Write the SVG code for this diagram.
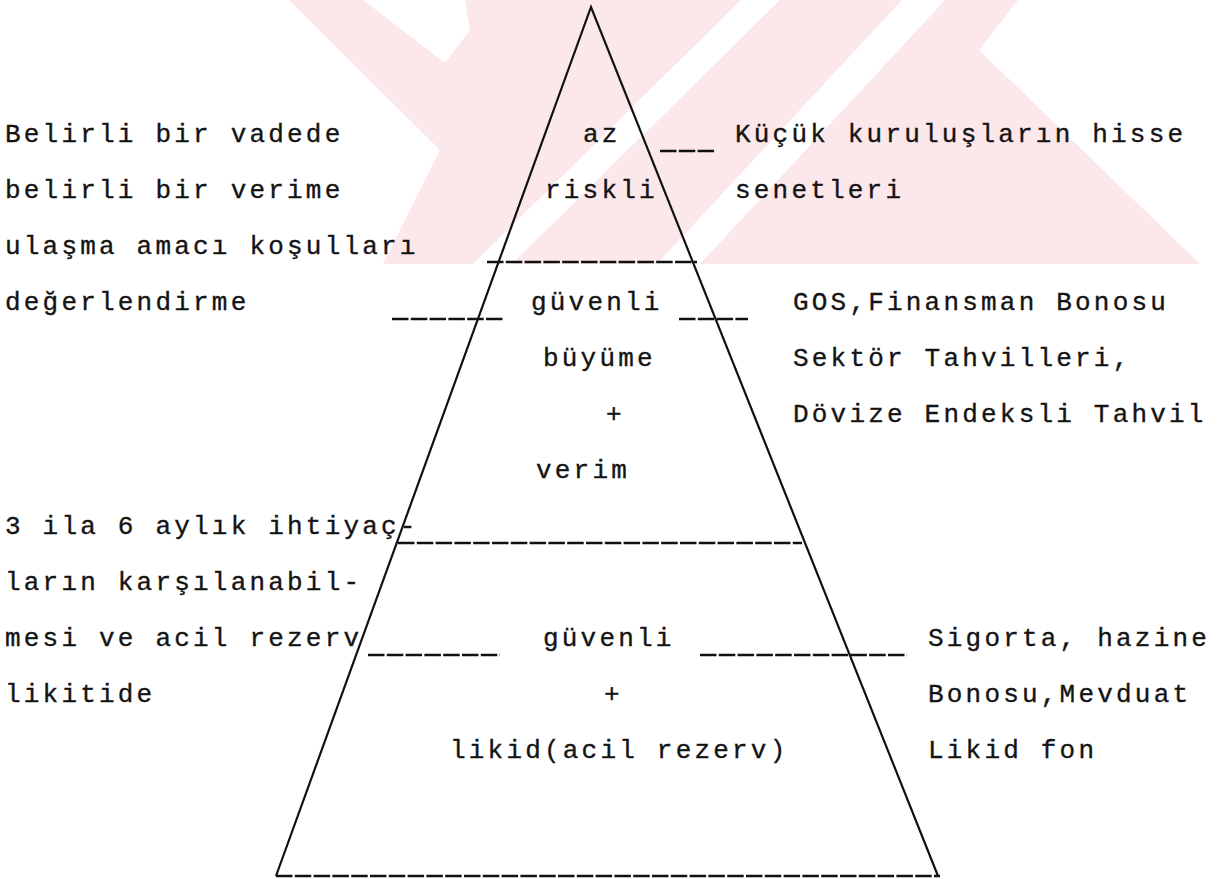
<svg xmlns="http://www.w3.org/2000/svg" width="1224" height="879" viewBox="0 0 1224 879">
<style>
.t{font-family:"Liberation Mono","DejaVu Sans Mono",monospace;font-size:26px;letter-spacing:3.2px;fill:#141414;stroke:#141414;stroke-width:0.35}
.edge{stroke:#111;stroke-width:2.2;fill:none}
.rule{stroke:#111;stroke-width:2.5;stroke-dasharray:16.5 2.3;fill:none}
.wm{fill:#fce7eb}
.wc{fill:#ffffff}
</style>
<rect width="1224" height="879" fill="#ffffff"/>
<g id="watermark">
<polygon class="wm" points="289,0 1018,0 979,50 1200,264 383,264 440,150"/>
<polygon class="wc" points="363,0 465,0 470,30 445,63"/>
<polygon class="wc" points="741,0 780,0 512,264 473,264"/>
<polygon class="wc" points="902,0 945,0 700,264 657,264"/>
</g>
<g id="pyramid">
<polyline class="edge" points="276,876 591,7 938,876"/>
</g>
<g id="connectors">
<line class="rule" x1="487" y1="262" x2="697" y2="262"/>
<line class="rule" x1="398" y1="543" x2="802" y2="543"/>
<line class="rule" x1="276" y1="876" x2="940" y2="876"/>
<line class="rule" x1="660" y1="151" x2="715" y2="151"/>
<line class="rule" x1="392" y1="319" x2="503" y2="319"/>
<line class="rule" x1="679" y1="319" x2="748" y2="319"/>
<line class="rule" x1="368" y1="655" x2="500" y2="655"/>
<line class="rule" x1="700" y1="655" x2="907" y2="655"/>
</g>
<g id="tier-top">
<text class="t" x="583" y="142">az</text>
<text class="t" x="545" y="198">riskli</text>
</g>
<g id="tier-middle">
<text class="t" x="531" y="310">güvenli</text>
<text class="t" x="543" y="366">büyüme</text>
<text class="t" x="606" y="422">+</text>
<text class="t" x="536" y="478">verim</text>
</g>
<g id="tier-bottom">
<text class="t" x="543" y="646">güvenli</text>
<text class="t" x="604" y="702">+</text>
<text class="t" x="450" y="758">likid(acil rezerv)</text>
</g>
<g id="left-top">
<text class="t" x="5" y="142">Belirli bir vadede</text>
<text class="t" x="5" y="198">belirli bir verime</text>
<text class="t" x="5" y="254">ulaşma amacı koşulları</text>
<text class="t" x="5" y="310">değerlendirme</text>
</g>
<g id="left-bottom">
<text class="t" x="5" y="534">3 ila 6 aylık ihtiyaç-</text>
<text class="t" x="5" y="590">ların karşılanabil-</text>
<text class="t" x="5" y="646">mesi ve acil rezerv</text>
<text class="t" x="5" y="702">likitide</text>
</g>
<g id="right-top">
<text class="t" x="735" y="142">Küçük kuruluşların hisse</text>
<text class="t" x="735" y="198">senetleri</text>
</g>
<g id="right-middle">
<text class="t" x="793" y="310">GOS,Finansman Bonosu</text>
<text class="t" x="793" y="366">Sektör Tahvilleri,</text>
<text class="t" x="793" y="422">Dövize Endeksli Tahvil</text>
</g>
<g id="right-bottom">
<text class="t" x="928" y="646">Sigorta, hazine</text>
<text class="t" x="928" y="702">Bonosu,Mevduat</text>
<text class="t" x="928" y="758">Likid fon</text>
</g>
</svg>
